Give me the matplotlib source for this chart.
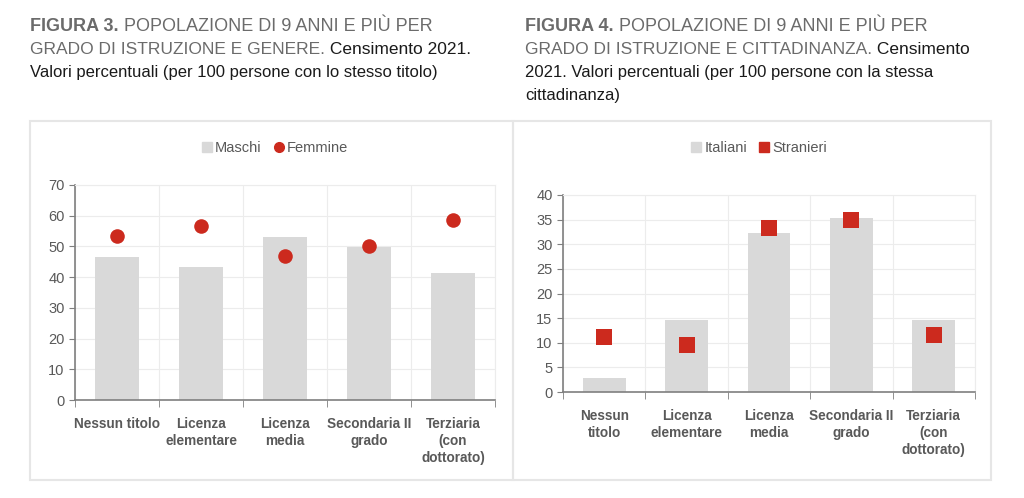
import matplotlib
matplotlib.use("Agg")
import matplotlib.pyplot as plt
import numpy as np
from matplotlib.patches import Rectangle
from matplotlib.lines import Line2D

# dati
categorie = ["Nessun titolo", "Licenza\nelementare", "Licenza\nmedia", "Secondaria II\ngrado", "Terziaria\n(con\ndottorato)"]
categorie_dx = ["Nessun\ntitolo", "Licenza\nelementare", "Licenza\nmedia", "Secondaria II\ngrado", "Terziaria\n(con\ndottorato)"]
maschi = [46.7, 43.4, 53.2, 49.9, 41.5]
femmine = [53.3, 56.6, 46.8, 50.1, 58.5]
italiani = [2.8, 14.7, 32.2, 35.4, 14.7]
stranieri = [11.1, 9.5, 33.2, 34.9, 11.5]

plt.rcParams["font.family"] = ["Liberation Sans", "DejaVu Sans"]

GRIGIO = "#d9d9d9"
ROSSO = "#cc2a1e"
TESTO = "#595959"

W, H = 1024, 498
fig = plt.figure(figsize=(W / 100, H / 100), dpi=100)
renderer = fig.canvas.get_renderer()


def px(x, y):
    return x / W, 1 - y / H


def riga(x, y, parti, size=13):
    # scrive una riga con pezzi di stile diverso
    for testo, peso, colore in parti:
        t = fig.text(*px(x, y), testo, fontsize=size, fontweight=peso, color=colore, va="baseline")
        bb = t.get_window_extent(renderer)
        x += bb.width


# titoli
riga(30, 31, [("FIGURA 3.", "bold", "#6b6b6b"), (" POPOLAZIONE DI 9 ANNI E PIÙ PER", "normal", "#6b6b6b")])
riga(30, 54, [("GRADO DI ISTRUZIONE E GENERE.", "normal", "#6b6b6b"), (" Censimento 2021.", "normal", "#1a1a1a")], size=12.5)
riga(30, 77, [("Valori percentuali (per 100 persone con lo stesso titolo)", "normal", "#1a1a1a")], size=12)

riga(525, 31, [("FIGURA 4.", "bold", "#6b6b6b"), (" POPOLAZIONE DI 9 ANNI E PIÙ PER", "normal", "#6b6b6b")])
riga(525, 54, [("GRADO DI ISTRUZIONE E CITTADINANZA.", "normal", "#6b6b6b"), (" Censimento", "normal", "#1a1a1a")], size=12.5)
riga(525, 77, [("2021. Valori percentuali (per 100 persone con la stessa", "normal", "#1a1a1a")], size=12)
riga(525, 100, [("cittadinanza)", "normal", "#1a1a1a")], size=12)

# riquadri
for x0, x1 in [(30, 513), (513, 991)]:
    fig.patches.append(Rectangle(px(x0, 480), (x1 - x0) / W, (480 - 121) / H,
                                 transform=fig.transFigure, fill=False,
                                 edgecolor="#e6e6e6", linewidth=1.5))


def pannello(rect, etichette, barre, punti, ymax, passo, marker, msize, nomi):
    l, t, r, b = rect
    ax = fig.add_axes([l / W, 1 - b / H, (r - l) / W, (b - t) / H])
    x = np.arange(len(barre))
    ax.bar(x, barre, width=0.52, color=GRIGIO, zorder=2)
    ax.scatter(x, punti, marker=marker, s=msize, color=ROSSO, zorder=3, linewidths=0)
    ax.set_xlim(-0.5, len(barre) - 0.5)
    ax.set_ylim(0, ymax)
    ax.set_yticks(np.arange(0, ymax + 1, passo))
    ax.set_xticks(x)
    ax.set_xticklabels(etichette, fontsize=9.8, fontweight="bold", color=TESTO, linespacing=1.3)
    ax.set_xticks(np.arange(-0.5, len(barre), 1), minor=True)
    ax.tick_params(axis="x", which="major", length=0, pad=12)
    ax.tick_params(axis="x", which="minor", length=5, color="#7f7f7f", direction="out")
    ax.tick_params(axis="y", length=4, color="#7f7f7f", labelsize=10.5, labelcolor=TESTO)
    ax.grid(True, axis="y", color="#ececec", linewidth=0.8, zorder=0)
    ax.grid(True, axis="x", which="minor", color="#ececec", linewidth=0.8, zorder=0)
    for s in ["top", "right"]:
        ax.spines[s].set_color("#ececec")
    for s in ["left", "bottom"]:
        ax.spines[s].set_color("#7f7f7f")
        ax.spines[s].set_linewidth(1.2)
    maniglie = [Line2D([], [], marker="s", linestyle="", color=GRIGIO, markersize=6.5),
                Line2D([], [], marker=marker, linestyle="", color=ROSSO, markersize=7)]
    fig.legend(maniglie, nomi, loc="center",
               bbox_to_anchor=px((l + r) / 2 - 10, 148), ncol=2, frameon=False,
               fontsize=10.5, handlelength=0.7, handletextpad=0.2, columnspacing=0.8,
               labelcolor=TESTO)
    return ax


pannello((75, 185, 495, 400), categorie, maschi, femmine, 70, 10, "o", 110, ["Maschi", "Femmine"])
pannello((563, 195, 975, 392), categorie_dx, italiani, stranieri, 40, 5, "s", 135, ["Italiani", "Stranieri"])

fig.savefig("out.png", dpi=100, facecolor="white")
